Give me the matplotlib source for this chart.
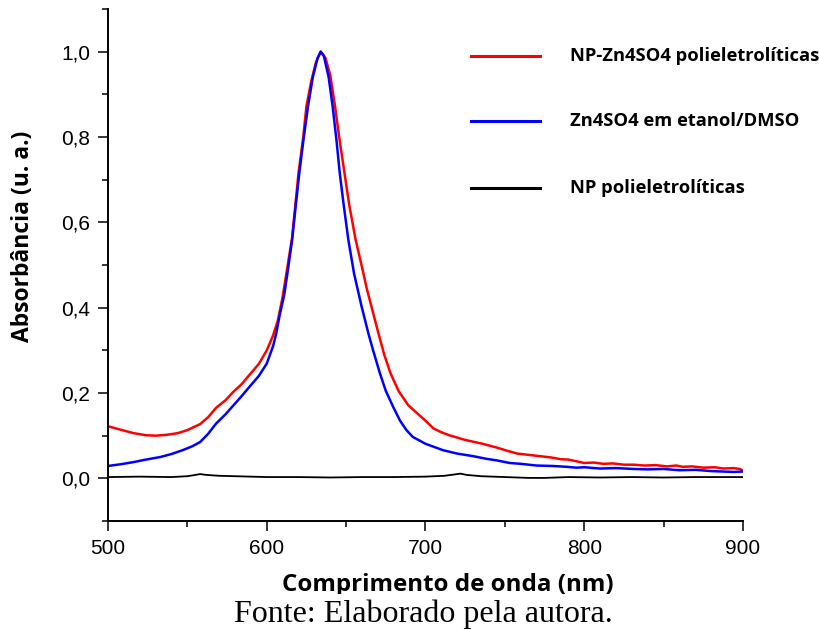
import matplotlib
matplotlib.use("Agg")
import matplotlib.pyplot as plt
from matplotlib.ticker import MultipleLocator, FuncFormatter
from matplotlib.patches import Rectangle

# spectra (wavelength in nm, normalised absorbance)
red_nm = [500, 508, 516, 524, 530, 537, 544, 550, 558, 563, 568, 574, 579, 584,
          589, 595, 600, 604, 607, 610, 613, 616, 620, 623, 625, 628, 631, 634,
          637, 640, 643, 646, 649, 652, 656, 660, 663, 666, 670, 674, 678, 683,
          689, 694, 700, 705, 710, 715, 725, 736, 745, 752, 758, 765, 772, 779,
          785, 790, 795, 800, 806, 812, 818, 825, 831, 838, 845, 852, 858, 862,
          868, 875, 882, 888, 894, 898, 900]
red_abs = [0.122, 0.114, 0.106, 0.101, 0.100, 0.102, 0.106, 0.113, 0.127, 0.143,
           0.165, 0.183, 0.203, 0.220, 0.242, 0.268, 0.300, 0.335, 0.370, 0.425,
           0.495, 0.565, 0.715, 0.800, 0.872, 0.930, 0.975, 1.000, 0.985, 0.945,
           0.872, 0.790, 0.715, 0.640, 0.559, 0.495, 0.445, 0.402, 0.345, 0.290,
           0.246, 0.205, 0.172, 0.155, 0.135, 0.117, 0.108, 0.101, 0.090, 0.081,
           0.072, 0.064, 0.058, 0.055, 0.052, 0.049, 0.045, 0.044, 0.040, 0.036,
           0.037, 0.034, 0.035, 0.032, 0.032, 0.030, 0.031, 0.028, 0.030, 0.027,
           0.028, 0.025, 0.026, 0.023, 0.024, 0.022, 0.018]

blue_nm = [500, 508, 516, 524, 533, 540, 547, 553, 558, 563, 568, 574, 579, 584,
           589, 595, 600, 604, 606, 608, 611, 613, 616, 618, 620.5, 623, 626, 629,
           632, 634, 636, 639, 641.5, 644, 646, 648.5, 651.4, 655, 659.8, 664, 667,
           671.3, 675, 679.7, 684, 688, 692, 700, 711, 720, 730, 738, 745, 753,
           760, 770, 780, 789, 795, 800, 810, 820, 831, 840, 850, 860, 870, 880,
           894, 900]
blue_abs = [0.029, 0.033, 0.038, 0.044, 0.050, 0.057, 0.066, 0.075, 0.085, 0.104,
            0.128, 0.150, 0.171, 0.192, 0.214, 0.240, 0.269, 0.310, 0.340, 0.380,
            0.430, 0.480, 0.559, 0.630, 0.715, 0.790, 0.872, 0.940, 0.985, 1.000,
            0.990, 0.940, 0.872, 0.790, 0.715, 0.640, 0.559, 0.480, 0.402, 0.340,
            0.300, 0.246, 0.205, 0.167, 0.135, 0.113, 0.097, 0.081, 0.066, 0.058,
            0.052, 0.046, 0.042, 0.036, 0.034, 0.030, 0.029, 0.027, 0.025, 0.026,
            0.023, 0.024, 0.022, 0.021, 0.022, 0.019, 0.020, 0.017, 0.015, 0.016]

black_nm = [500, 520, 540, 550, 555, 558, 562, 570, 580, 600, 620, 640, 660, 680,
            700, 712, 718, 722, 726, 735, 750, 765, 775, 790, 810, 830, 850, 870, 900]
black_abs = [0.003, 0.004, 0.003, 0.005, 0.008, 0.010, 0.008, 0.006, 0.005, 0.003,
             0.003, 0.002, 0.003, 0.003, 0.004, 0.006, 0.009, 0.011, 0.008, 0.005,
             0.003, 0.001, 0.001, 0.003, 0.002, 0.003, 0.002, 0.003, 0.003]

labels = ["NP-Zn4SO4 polieletrolíticas", "Zn4SO4 em etanol/DMSO", "NP polieletrolíticas"]
colors = ["red", "blue", "black"]

fig = plt.figure(figsize=(8.2, 6.3), dpi=100)
ax = fig.add_axes([0.1317, 0.173, 0.7744, 0.8127])

ax.plot(red_nm, red_abs, color="red", lw=1.8)
ax.plot(blue_nm, blue_abs, color="blue", lw=1.8)
ax.plot(black_nm, black_abs, color="black", lw=1.3)

ax.set_xlim(500, 900)
ax.set_ylim(-0.1, 1.1)
ax.xaxis.set_major_locator(MultipleLocator(100))
ax.xaxis.set_minor_locator(MultipleLocator(50))
ax.yaxis.set_major_locator(MultipleLocator(0.2))
ax.yaxis.set_minor_locator(MultipleLocator(0.1))
ax.yaxis.set_major_formatter(FuncFormatter(lambda v, p: f"{v:.1f}".replace(".", ",")))

for s in ["top", "right"]:
    ax.spines[s].set_visible(False)
for s in ["left", "bottom"]:
    ax.spines[s].set_linewidth(1.4)
ax.tick_params(which="major", direction="out", length=7, width=1.1,
               labelsize=15, pad=6)
ax.tick_params(which="minor", direction="out", length=4, width=1.1)
for t in ax.get_xticklabels() + ax.get_yticklabels():
    t.set_family("Liberation Sans")

ax.set_ylabel("Absorbância (u. a.)", family="Open Sans", fontweight="bold", fontsize=16.5)
ax.yaxis.set_label_coords(-0.115, 0.555)
ax.set_xlabel("Comprimento de onda (nm)", family="Open Sans", fontweight="bold", fontsize=17.4)
ax.xaxis.set_label_coords(0.535, -0.101)

# hand-drawn style legend
leg_y = [56, 121, 188]
for lab, c, yp in zip(labels, colors, leg_y):
    yf = 1 - yp / 630
    fig.add_artist(plt.Line2D([471 / 820, 540 / 820], [yf, yf], color=c, lw=2.2))
    fig.text(570 / 820, yf, lab, family="Open Sans", fontweight="bold",
             fontsize=13.2, va="center", ha="left")

# the source picture is cropped just under the axis title
fig.add_artist(Rectangle((0, 0), 1, 1 - 594 / 630, transform=fig.transFigure,
                         facecolor="white", edgecolor="none", zorder=5))
fig.text(423 / 820, 1 - 622 / 630, "Fonte: Elaborado pela autora.",
         family="Liberation Serif", fontsize=23, ha="center", va="baseline", zorder=6)

fig.savefig("out.png", dpi=100)
